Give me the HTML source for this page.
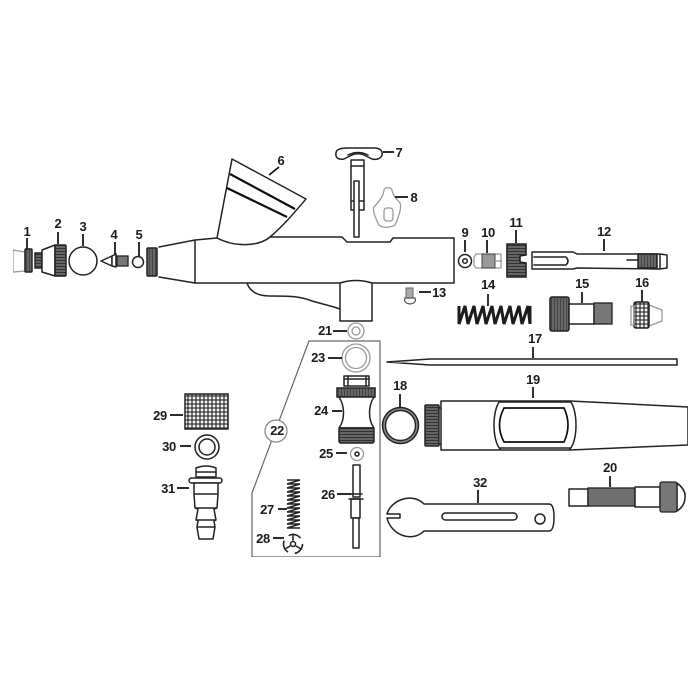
<!DOCTYPE html>
<html><head><meta charset="utf-8"><style>
html,body{margin:0;padding:0;background:#fff;width:700px;height:700px;overflow:hidden}
svg{display:block}
text{font-family:"Liberation Sans",sans-serif;font-weight:bold;font-size:13px;fill:#1a1a1a;text-anchor:middle;letter-spacing:-.3px}
.l{fill:none;stroke:#222;stroke-width:1.5;stroke-linejoin:round;stroke-linecap:round}
.t{fill:none;stroke:#111;stroke-width:2.2}
.f{fill:#fff;stroke:#222;stroke-width:1.5;stroke-linejoin:round}
.g{fill:#777;stroke:#222;stroke-width:1.3}
.h{fill:url(#ht);stroke:#222;stroke-width:1.5}
.k{fill:url(#kn);stroke:#222;stroke-width:1.5}
.r{fill:url(#rb);stroke:#222;stroke-width:1.5}
.b{fill:none;stroke:#999;stroke-width:1.3}
.a{fill:none;stroke:#111;stroke-width:1.7}
</style></head><body>
<svg width="700" height="700" viewBox="0 0 700 700" xmlns="http://www.w3.org/2000/svg">
<defs>
<pattern id="ht" width="4" height="4" patternUnits="userSpaceOnUse"><rect width="4" height="4" fill="#444"/><circle cx="2" cy="2" r="1.45" fill="#eee"/></pattern>
<pattern id="kn" width="3" height="3" patternUnits="userSpaceOnUse"><rect width="3" height="3" fill="#666"/><rect y="2" width="3" height="1" fill="#333"/></pattern>
<pattern id="rb" width="3" height="3" patternUnits="userSpaceOnUse"><rect width="3" height="3" fill="#666"/><rect x="2" width="1" height="3" fill="#444"/></pattern>
<filter id="s" x="0" y="0" width="100%" height="100%"><feGaussianBlur stdDeviation="0.35"/></filter>
</defs>
<rect width="700" height="700" fill="#fff"/>
<g filter="url(#s)">
<!-- airbrush body -->
<path class="l" d="M159 247L195 240L217 238M159 277L195 283H454V238H393L390 242H347L342 237H270M195 240V283"/>
<path class="f" d="M232 159L306 199C294 213 283 226 270 237C258 247 234 247 217 238Z"/>
<path class="t" d="M230 174L295 209M227 188L287 217"/>
<path class="l" d="M247 283C250 292 258 296 270 296C288 296 300 296 312 301C322 304 332 306 340 309"/>
<path class="f" d="M340 321V283Q356 278 372 283V321Z"/>
<!-- 1 -->
<path class="b" d="M13 250L25 252V271L13 272Z"/>
<rect class="r" x="25" y="249" width="7" height="23" rx="1"/>
<!-- 2 -->
<rect x="35" y="253" width="7" height="15" class="k"/>
<path class="f" d="M42 250L55 245V276L42 272Z"/>
<rect class="k" x="55" y="245" width="11" height="31" rx="1"/>
<!-- 3 -->
<circle class="f" cx="83" cy="261" r="14"/>
<!-- 4 -->
<path class="l" d="M101 261L112 256V266Z"/><path class="f" d="M112 256L116 254V267L112 266Z"/>
<rect class="g" x="117" y="256" width="11" height="10"/>
<!-- 5 -->
<circle class="f" cx="138" cy="262" r="5.5"/>
<rect class="r" x="147" y="248" width="10" height="28" rx="1"/>
<!-- 7 -->
<path class="f" d="M336 153C336 149 342 148 348 148H374C380 148 383 151 382 155C381 159 376 160 372 159L366 156C361 153 355 153 350 156L344 159C339 160 335 158 336 153Z"/>
<path class="l" d="M348 155Q358 150 368 155"/>
<rect class="f" x="351" y="160" width="13" height="50"/>
<path class="l" d="M351 166H364M351 201H364"/>
<rect class="f" x="354" y="181" width="5" height="56"/>
<!-- 8 -->
<path class="b" d="M384 190C384 187 391 187 392 190C393 196 396 198 400 203C402 208 398 219 395 225C390 228 382 228 379 225C376 219 372 210 374 207C378 202 383 198 384 190Z"/>
<rect x="384" y="208" width="9" height="13" rx="3" class="b"/>
<!-- 9 -->
<circle class="f" cx="465" cy="261" r="6.5"/><circle class="f" cx="465" cy="261" r="2.3"/>
<!-- 10 -->
<path class="b" d="M476 254H501V268H476L474 265V257Z"/>
<rect x="482" y="254" width="13" height="14" fill="#999" stroke="#444"/>
<path class="b" d="M495 261H502"/>
<!-- 11 -->
<path class="k" d="M507 244H526V255L520 256V262L526 263V277H507Z" style="stroke-width:1.6"/>
<!-- 12 -->
<path class="f" d="M532 252H573L577 254H660L667 255V268L660 269L577 268L573 269H532Z"/>
<path class="l" d="M534 257H566Q570 261 566 265H534"/>
<path class="l" d="M627 260H640"/>
<rect class="r" x="638" y="254" width="19" height="14"/>
<path class="l" d="M660 255V268"/>
<!-- 13 -->
<rect x="406" y="288" width="7" height="10" fill="#aaa" stroke="#666"/>
<path d="M405 298H415Q417 303 410 304Q403 303 405 298Z" fill="#fff" stroke="#555" stroke-width="1.2"/>
<!-- 14 spring -->
<path fill="none" stroke="#1a1a1a" stroke-width="3" d="M459 306V324L465 306L468 324L474 306L477 324L483 306L486 324L492 306L495 324L501 306L504 324L510 306L513 324L519 306L522 324L528 306L530 324V306"/>
<!-- 15 -->
<rect class="k" x="550" y="297" width="19" height="34" rx="2" style="fill:url(#rb)"/>
<rect class="f" x="569" y="304" width="25" height="20"/>
<rect class="g" x="594" y="303" width="18" height="21"/>
<!-- 16 -->
<path class="b" d="M649 305L662 310V321L649 326"/>
<rect class="h" x="634" y="302" width="15" height="26" rx="2"/>
<path class="b" d="M631 306H634V325H631Z"/>
<!-- 17 -->
<path class="f" d="M387 362L430 359H677V365H430Z"/>
<!-- 18 -->
<circle cx="400.5" cy="425.5" r="16.5" fill="none" stroke="#888" stroke-width="3"/>
<circle cx="400.5" cy="425.5" r="18" fill="none" stroke="#222" stroke-width="1.5"/>
<circle cx="400.5" cy="425.5" r="15" fill="none" stroke="#222" stroke-width="1.4"/>
<!-- 19 -->
<rect class="k" x="425" y="405" width="14" height="41" rx="1" style="fill:url(#kn)"/>
<path class="l" d="M439 408H441M439 444H441"/>
<path class="f" d="M441 401H570L688 407V445L570 450H441Z"/>
<path class="l" d="M500 401C492 410 492 440 500 449M570 401C578 410 578 440 570 449"/>
<path class="l" stroke-width="2" d="M500 402H570M500 448H570"/>
<path class="a" d="M504 408H564Q572 425 564 442H504Q495 425 504 408Z"/>
<!-- 20 -->
<rect class="f" x="569" y="489" width="19" height="17"/>
<rect class="g" x="588" y="488" width="47" height="18" style="fill:#707070"/>
<rect class="f" x="635" y="487" width="25" height="20"/>
<path class="f" d="M677 483Q686 490 685 497Q685 506 677 511Z"/>
<rect class="g" x="660" y="482" width="17" height="30" rx="2"/>
<!-- 32 -->
<path class="f" d="M387 514L400 514V518L387 518C391 535 412 543 424 531H549Q554 531 554 517Q554 504 549 504H424C412 492 391 500 387 514Z"/>
<rect class="l" x="442" y="513" width="75" height="7" rx="3.5"/>
<circle class="f" cx="540" cy="519" r="5"/>
<!-- box -->
<path fill="none" stroke="#666" stroke-width="1.2" d="M309 341H380V557H252V493Z"/>
<circle cx="276" cy="431" r="11" fill="#fff" stroke="#888" stroke-width="1.3"/>
<!-- 21 -->
<circle class="b" cx="356" cy="331" r="8"/><circle class="b" cx="356" cy="331" r="4"/>
<!-- 23 -->
<circle class="b" cx="356" cy="358" r="14"/><circle class="b" cx="356" cy="358" r="10.5"/>
<!-- 24 -->
<path class="f" d="M344 376H369V386H344Z"/>
<path class="l" d="M344 379H369M348 376V386M366 376V386"/>
<rect class="k" x="337" y="388" width="38" height="9" style="fill:url(#rb)"/>
<path class="f" d="M339 397C345 406 345 420 339 428H374C368 420 368 406 374 397Z"/>
<rect class="k" x="339" y="428" width="35" height="15" rx="2"/>
<!-- 25 -->
<circle class="b" cx="357" cy="454" r="6.5"/><circle class="f" cx="357" cy="454" r="2"/>
<!-- 26 -->
<rect class="f" x="353" y="465" width="7" height="32"/>
<rect class="f" x="351" y="499" width="9" height="19"/>
<rect class="f" x="353" y="518" width="6" height="30"/>
<path class="l" d="M349 499H363M350 494H362"/>
<!-- 27 spring -->
<path fill="none" stroke="#222" stroke-width="1.6" d="M287 480H300L287 484H300L287 488H300L287 492H300L287 496H300L287 500H300L287 504H300L287 508H300L287 512H300L287 516H300L287 520H300L287 524H300L287 528H300"/>
<!-- 28 -->
<circle cx="293" cy="544" r="9.5" fill="none" stroke="#222" stroke-width="1.6" stroke-dasharray="13 7"/>
<circle class="f" cx="293" cy="544" r="2.5"/>
<path class="l" d="M293 534V540M285 549L290 546M301 549L296 546"/>
<!-- 29 -->
<rect class="h" x="185" y="394" width="43" height="35" stroke-width="2"/>
<!-- 30 -->
<circle class="f" cx="207" cy="447" r="12"/><circle class="f" cx="207" cy="447" r="8"/>
<!-- 31 -->
<path class="f" d="M196 468Q206 464 216 468V477H196Z"/><path class="l" d="M196 472H216"/>
<rect class="f" x="189" y="478" width="33" height="5" rx="2.5"/>
<path class="f" d="M194 483H218V494L217 508L214 509L216 520L214 521L215 527L213 539H199L197 527L198 521L196 520L198 509L195 508L194 494Z"/>
<path class="l" d="M195 494H217M196 508H216M197 520H215M198 527H214"/>
<!-- leaders -->
<path class="a" d="M27 238V249M58 232V244M83 234V246M115 242V254M139 242V256M269 175L279 167M383 152H394M395 197H408M465 240V252M487 240V253M516 230V243M604 239V251M419 292H431M488 294V306M582 292V303M642 290V302M533 347V358M400 394V407M533 387V398M610 476V487M478 490V503M333 331H347M328 358H342M332 411H342M336 453H347M337 494H351M278 509H287M273 538H284M170 415H183M180 446H191M177 488H189"/>
<!-- labels -->
<text x="27" y="236">1</text><text x="58" y="228">2</text><text x="83" y="231">3</text><text x="114" y="239">4</text><text x="139" y="239">5</text><text x="281" y="165">6</text>
<text x="399" y="157">7</text><text x="414" y="202">8</text><text x="465" y="237">9</text><text x="488" y="237">10</text><text x="516" y="227">11</text><text x="604" y="236">12</text>
<text x="439" y="297">13</text><text x="488" y="289">14</text><text x="582" y="288">15</text><text x="642" y="287">16</text><text x="535" y="343">17</text>
<text x="400" y="390">18</text><text x="533" y="384">19</text><text x="610" y="472">20</text><text x="325" y="335">21</text><text x="277" y="435">22</text>
<text x="318" y="362">23</text><text x="321" y="415">24</text><text x="326" y="458">25</text><text x="328" y="499">26</text><text x="267" y="514">27</text><text x="263" y="543">28</text>
<text x="160" y="420">29</text><text x="169" y="451">30</text><text x="168" y="493">31</text><text x="480" y="487">32</text>
</g>
</svg>
</body></html>
